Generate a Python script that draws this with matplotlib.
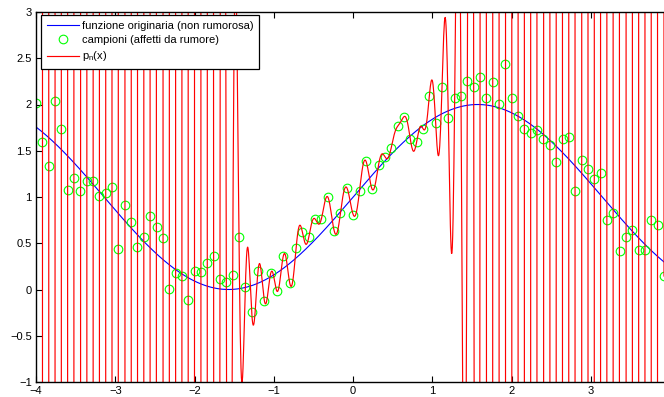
import math

import numpy as np
import matplotlib
matplotlib.use("Agg")
import matplotlib.pyplot as plt

plt.rcParams["font.family"] = ["Liberation Sans", "DejaVu Sans"]
plt.rcParams["font.size"] = 8

# noisy samples of 1 + sin(x) at x = -4:0.08:3.92
x_nodes = -4.0 + 0.08 * np.arange(100)
y_nodes = np.array([
    2.02, 1.60, 1.335, 2.04, 1.735, 1.08, 1.21, 1.07, 1.17, 1.17,
    1.01, 1.04, 1.11, 0.435, 0.91, 0.725, 0.456, 0.568, 0.80, 0.676,
    0.553, 0.009, 0.178, 0.15, -0.113, 0.203, 0.19, 0.286, 0.366, 0.11,
    0.078, 0.16, 0.568, 0.024, -0.243, 0.20, -0.12, 0.175, -0.02, 0.366,
    0.07, 0.445, 0.618, 0.564, 0.762, 0.766, 1.0, 0.636, 0.827, 1.10,
    0.81, 1.065, 1.39, 1.083, 1.346, 1.436, 1.533, 1.764, 1.868, 1.63,
    1.595, 1.74, 2.088, 1.80, 2.186, 1.85, 2.067, 2.092, 2.258, 2.19,
    2.30, 2.067, 2.243, 2.005, 2.44, 2.074, 1.88, 1.735, 1.69, 1.725,
    1.63, 1.566, 1.382, 1.627, 1.652, 1.065, 1.40, 1.303, 1.195, 1.256,
    0.751, 0.823, 0.42, 0.568, 0.647, 0.43, 0.424, 0.755, 0.70, 0.146,
])

x_ticks = [-4, -3, -2, -1, 0, 1, 2, 3]
y_ticks = [-1, -0.5, 0, 0.5, 1, 1.5, 2, 2.5, 3]


def interp_poly(xn, yn, xx):
    """First barycentric form (stable) of the interpolant on equispaced nodes."""
    n = len(xn) - 1
    h = xn[1] - xn[0]
    t = (xx - xn[0]) / h
    j = np.arange(n + 1)
    w = np.array([(-1.0) ** (n - k) / (math.factorial(k) * math.factorial(n - k))
                  for k in j])
    d = t[:, None] - j[None, :]
    hit = np.isclose(d, 0, atol=1e-12)
    d[hit] = 1.0
    ell = np.prod(d, axis=1)
    p = ell * ((w * yn) / d).sum(axis=1)
    rows, cols = np.nonzero(hit)
    p[rows] = yn[cols]
    return p


xx = np.linspace(-4.0, 3.92, 1600)
f_orig = 1 + np.sin(xx)
p_n = np.clip(interp_poly(x_nodes, y_nodes, xx), -50, 50)

fig = plt.figure(figsize=(6.64, 3.97), dpi=100)
ax = fig.add_axes([36 / 664, 15 / 397, 628 / 664, 370 / 397])

ax.plot(xx, f_orig, color="#0000ff", lw=0.8,
        label="funzione originaria (non rumorosa)")
ax.plot(x_nodes, y_nodes, "o", mfc="none", mec="#00ff00", ms=6.2, mew=0.8,
        label="campioni (affetti da rumore)")
ax.plot(xx, p_n, color="#ff0000", lw=0.85, label=r"p$_\mathregular{n}$(x)")

ax.set_xlim(-4, 3.92)
ax.set_ylim(-1, 3)
ax.set_xticks(x_ticks)
ax.set_yticks(y_ticks)
ax.set_xticklabels([f"{t:g}".replace("-", "\u2212") for t in x_ticks])
ax.set_yticklabels([f"{t:g}".replace("-", "\u2212") for t in y_ticks])
ax.tick_params(direction="in", length=4, width=0.8, top=True, right=False,
               labelsize=8, pad=3)
for s in ("left", "bottom", "top"):
    ax.spines[s].set_linewidth(1.0)
ax.spines["right"].set_visible(False)

leg = ax.legend(loc="upper left", bbox_to_anchor=(5 / 628, 1 - 3 / 370),
                borderaxespad=0, fancybox=False, edgecolor="black",
                framealpha=1, handlelength=2.9, handletextpad=0.3,
                labelspacing=0.4, borderpad=0.5, fontsize=8)
leg.get_frame().set_linewidth(0.9)

fig.savefig("out.png", dpi=100)
